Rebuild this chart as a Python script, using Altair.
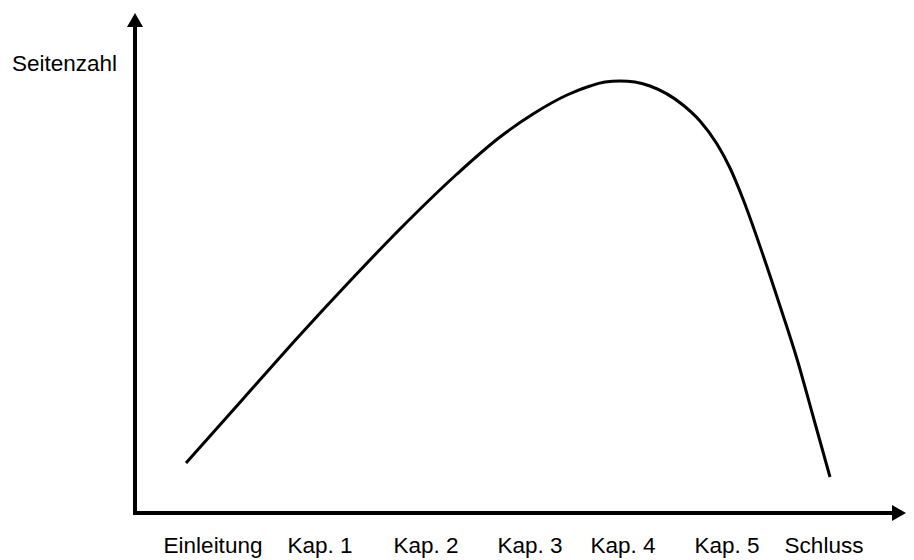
import altair as alt
import pandas as pd

# Curve (position along the book, relative page count)
curve_x = [0.51, 1.08, 1.65, 2.15, 2.65, 3.22, 3.65, 3.98, 4.32, 4.55, 4.70, 4.85,
           5.00, 5.15, 5.48, 5.65, 5.82, 5.95, 6.08, 6.28, 6.45, 6.62, 6.78, 6.95]
curve_y = [0.50, 1.14, 1.78, 2.32, 2.84, 3.39, 3.76, 3.99, 4.18, 4.27, 4.31, 4.32,
           4.31, 4.27, 4.08, 3.92, 3.69, 3.45, 3.14, 2.58, 2.07, 1.54, 0.97, 0.36]

# Category labels along the x axis
labels = ["Einleitung", "Kap. 1", "Kap. 2", "Kap. 3", "Kap. 4", "Kap. 5", "Schluss"]
label_x = [0.78, 1.85, 2.91, 3.95, 4.88, 5.92, 6.89]
label_y = -0.40

y_title = "Seitenzahl"
y_title_x = -1.23
y_title_y = 4.42

# Axis extents (data units)
x_axis_end = 7.60
y_axis_end = 4.86
x_arrow = 7.63
y_arrow = 4.92

FONT = "Liberation Sans"
FONT_SIZE = 22.5
XS = alt.Scale(domain=[-1.27, 7.71], nice=False, zero=False)
YS = alt.Scale(domain=[-0.47, 5.05], nice=False, zero=False)

curve_df = pd.DataFrame({"x": curve_x, "y": curve_y})
label_df = pd.DataFrame({"label": labels, "x": label_x, "y": [label_y] * len(labels)})
title_df = pd.DataFrame({"label": [y_title], "x": [y_title_x], "y": [y_title_y]})
yaxis_df = pd.DataFrame({"x": [0.0], "y": [0.0], "y2": [y_axis_end]})
xaxis_df = pd.DataFrame({"x": [0.0], "x2": [x_axis_end], "y": [0.0]})
uparrow_df = pd.DataFrame({"x": [0.0], "y": [y_arrow]})
rarrow_df = pd.DataFrame({"x": [x_arrow], "y": [0.0]})

curve = alt.Chart(curve_df).mark_line(
    color="black", strokeWidth=3, interpolate="monotone"
).encode(
    x=alt.X("x:Q", scale=XS, axis=None),
    y=alt.Y("y:Q", scale=YS, axis=None),
)

yaxis = alt.Chart(yaxis_df).mark_rule(
    color="black", strokeWidth=4, strokeCap="square"
).encode(
    x=alt.X("x:Q", scale=XS, axis=None),
    y=alt.Y("y:Q", scale=YS, axis=None),
    y2="y2:Q",
)

xaxis = alt.Chart(xaxis_df).mark_rule(
    color="black", strokeWidth=4, strokeCap="square"
).encode(
    x=alt.X("x:Q", scale=XS, axis=None),
    x2="x2:Q",
    y=alt.Y("y:Q", scale=YS, axis=None),
)

uparrow = alt.Chart(uparrow_df).mark_point(
    shape="M0,-1L1,0.75L-1,0.75Z", size=256, filled=True, fill="black",
    strokeWidth=0, opacity=1
).encode(
    x=alt.X("x:Q", scale=XS, axis=None),
    y=alt.Y("y:Q", scale=YS, axis=None),
)

rarrow = alt.Chart(rarrow_df).mark_point(
    shape="M1,0L-0.75,-1L-0.75,1Z", size=256, filled=True, fill="black",
    strokeWidth=0, opacity=1
).encode(
    x=alt.X("x:Q", scale=XS, axis=None),
    y=alt.Y("y:Q", scale=YS, axis=None),
)

label_text = alt.Chart(label_df).mark_text(
    font=FONT, fontSize=FONT_SIZE, color="black", align="center", baseline="alphabetic"
).encode(
    x=alt.X("x:Q", scale=XS, axis=None),
    y=alt.Y("y:Q", scale=YS, axis=None),
    text="label:N",
)

title_text = alt.Chart(title_df).mark_text(
    font=FONT, fontSize=FONT_SIZE, color="black", align="left", baseline="alphabetic"
).encode(
    x=alt.X("x:Q", scale=XS, axis=None),
    y=alt.Y("y:Q", scale=YS, axis=None),
    text="label:N",
)

chart = alt.layer(
    yaxis, xaxis, uparrow, rarrow, curve, label_text, title_text
).properties(
    width=898, height=552, padding=0,
    autosize=alt.AutoSizeParams(type="none"),
    background="white",
).configure_view(stroke=None)

chart.save("out.html", embed_options={"renderer": "svg", "actions": False})
